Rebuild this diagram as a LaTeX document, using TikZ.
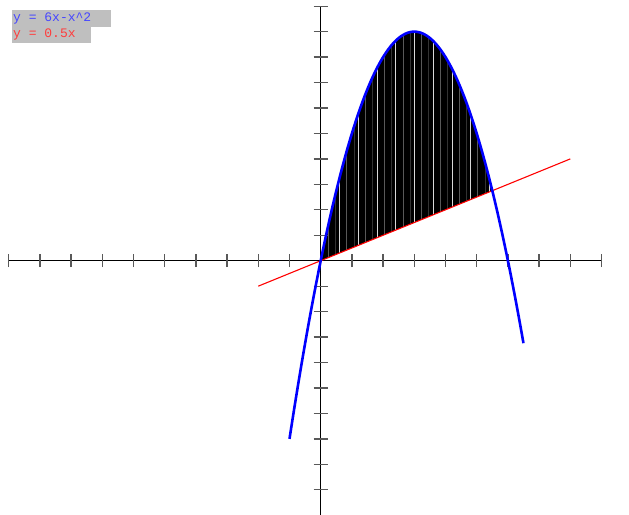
\documentclass[tikz,border=0pt]{standalone}
\usepackage{fontspec}
\newfontfamily\legendfont{Liberation Mono}
\begin{document}
\begin{tikzpicture}[x=1pt,y=-1pt,
  axisline/.style={black,line width=1.1pt},
  tickmark/.style={black!65,line width=1.3pt},
  legendtext/.style={font=\legendfont\fontsize{13}{13}\selectfont,anchor=base west,inner sep=0pt}]
\useasboundingbox (0,0) rectangle (629,514);
\begin{scope}[shift={(320.7,260.7)},x=31.2pt,y=25.45pt]
  % shaded region
  \fill[black] plot[domain=0:5.5,samples=80,smooth] (\x,{6*\x-\x*\x}) -- (0,0) -- cycle;
  \foreach \k in {1,...,27}{
    \pgfmathsetmacro{\xx}{\k*0.2+0.03*mod(\k*7,3)}
    \pgfmathsetmacro{\shade}{mod(\k,3)==0 ? 85 : (mod(\k,3)==1 ? 35 : 20)}
    \draw[white!\shade!black,line width=0.45pt] (\xx,{0.5*\xx}) -- (\xx,{6*\xx-\xx*\xx});
  }
  % axes
  \coordinate (xl) at (-10,0);
  \coordinate (xr) at (9,0);
  \coordinate (yb) at (0,-10.2);
  \coordinate (yt) at (0,10);
  \draw[axisline] (xl) -- (xr);
  \draw[axisline] (yb) -- (yt);
  \foreach \i in {-10,...,-1,1,2,...,9}
    \draw[tickmark] (\i,0) ++(0,-6.5pt) -- ++(0,13pt);
  \foreach \j in {-10,...,-1,1,2,...,10}
    \draw[tickmark] (0,\j) ++(-7pt,0) -- ++(14pt,0);
  % curves
  \coordinate (la) at (-2,-1);
  \coordinate (lb) at (8,4);
  \draw[red,line width=1.1pt] (la) -- (lb);
  \draw[blue,line width=2.6pt] plot[domain=-1:6.5,samples=100,smooth] (\x,{6*\x-\x*\x});
\end{scope}
% legend
\fill[black!25] (12,9.5) rectangle (110.5,26.5);
\fill[black!25] (12,26.5) rectangle (90.5,42.5);
\node[legendtext,text={rgb,255:red,70;green,70;blue,255}] (l1) at (13,21.5) {y = 6x-x\^{}2};
\node[legendtext,text={rgb,255:red,255;green,60;blue,60}] (l2) at (13,37.5) {y = 0.5x};
\end{tikzpicture}
\end{document}
